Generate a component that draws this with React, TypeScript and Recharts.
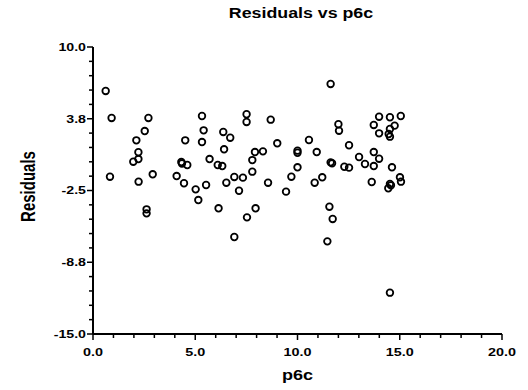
import { Scatter, ScatterChart, XAxis, YAxis } from "recharts";

// p6c values left to right (roughly)
const P6C = [
  0.62, 0.91, 0.83, 2.12, 2.22, 1.97, 2.22, 2.23, 2.53, 2.71,
  2.92, 2.62, 2.62, 4.09, 4.32, 4.35, 4.61, 4.45, 4.51, 5.02,
  5.15, 5.33, 5.41, 5.33, 5.53, 5.7, 6.1, 6.32, 6.14, 6.37,
  6.71, 6.41, 6.52, 6.91, 7.33, 7.14, 6.91, 7.53, 7.95, 8.56,
  9.44, 7.51, 7.51, 7.79, 7.79, 7.92, 8.31, 8.69, 9.01, 9.7,
  10.0, 10.0, 10.0, 10.56, 11.62, 12.0, 12.03, 12.52, 13.01, 13.3,
  13.73, 13.73, 13.99, 14.62, 13.63, 13.99, 14.52, 15.05, 13.73, 14.75,
  13.99, 14.52, 14.46, 14.52, 15.01, 15.06, 14.52, 14.44, 14.57, 11.62,
  11.69, 12.29, 12.52, 10.94, 10.84, 11.21, 11.56, 11.72, 11.46, 14.52,
];

const RESIDUALS = [
  6.17, 3.82, -1.3, 1.87, 0.83, 0.01, 0.24, -1.73, 2.68, 3.82,
  -1.09, -4.14, -4.49, -1.24, -0.02, -0.15, -0.28, -1.87, 1.87, -2.4,
  -3.33, 3.99, 2.74, 1.72, -2.02, 0.24, -0.28, -0.37, -4.05, 2.6,
  2.1, 1.09, -1.82, -1.32, -1.38, -2.52, -6.55, -4.84, -4.05, -1.82,
  -2.6, 4.14, 3.47, 0.15, -0.86, 0.85, 0.91, 3.67, 1.61, -1.3,
  0.97, 0.79, -0.48, 1.9, 6.78, 3.27, 2.71, 1.44, 0.42, -0.19,
  -0.37, 0.85, 0.27, -0.48, -1.76, 3.93, 3.88, 3.99, 3.21, 3.15,
  2.48, 2.86, 2.42, 2.19, -1.35, -1.73, -1.93, -2.31, -2.05, -0.05,
  -0.13, -0.43, -0.51, 0.85, -1.82, -1.35, -3.91, -4.98, -6.93, -11.4,
];

const X_TICKS = [0, 1, 2, 3, 4, 5, 6, 7, 8, 9, 10, 11, 12, 13, 14, 15, 16, 17, 18, 19, 20];
const X_MAJOR = [0, 5, 10, 15, 20];
const X_LABELS = ["0.0", "5.0", "10.0", "15.0", "20.0"];

const Y_TICKS = [
  -15, -13.75, -12.5, -11.25, -10, -8.75, -7.5, -6.25, -5, -3.75, -2.5,
  -1.25, 0, 1.25, 2.5, 3.75, 5, 6.25, 7.5, 8.75, 10,
];
const Y_MAJOR = [-15, -8.75, -2.5, 3.75, 10];
const Y_LABELS = ["-15.0", "-8.8", "-2.5", "3.8", "10.0"];

const points = P6C.map((x, i) => ({ x, y: RESIDUALS[i] }));

const FONT = "'Liberation Sans', Arial, Helvetica, sans-serif";

function XTick({ x, y, payload }: any) {
  const i = X_MAJOR.indexOf(payload.value);
  const major = i >= 0;
  return (
    <g>
      <line x1={x} x2={x} y1={y} y2={y + (major ? 6 : 4)} stroke="#000" strokeWidth={1.5} />
      {major && (
        <g transform={`translate(${x},${y + 22}) scale(1.25,1)`}>
          <text textAnchor="middle" fontSize={11.5} fontWeight="bold" fontFamily={FONT} fill="#000">
            {X_LABELS[i]}
          </text>
        </g>
      )}
    </g>
  );
}

function YTick({ x, y, payload }: any) {
  const i = Y_MAJOR.indexOf(payload.value);
  const major = i >= 0;
  return (
    <g>
      <line x1={x - (major ? 6 : 4)} x2={x} y1={y} y2={y} stroke="#000" strokeWidth={1.5} />
      {major && (
        <g transform={`translate(${x - 7},${y + 3.8}) scale(1.35,1)`}>
          <text textAnchor="end" fontSize={10.5} fontWeight="bold" fontFamily={FONT} fill="#000">
            {Y_LABELS[i]}
          </text>
        </g>
      )}
    </g>
  );
}

const OpenCircle = ({ cx, cy }: any) => (
  <circle cx={cx} cy={cy} r={3.3} fill="none" stroke="#000" strokeWidth={1.8} />
);

export default function App() {
  return (
    <div style={{ position: "absolute", left: 0, top: 0, width: 528, height: 390, background: "#fff" }}>
      <ScatterChart width={528} height={390} margin={{ top: 47, right: 26, bottom: 0, left: 0 }}>
        <XAxis
          type="number"
          dataKey="x"
          domain={[0, 20]}
          ticks={X_TICKS}
          interval={0}
          height={56}
          tickSize={0}
          tickMargin={0}
          tickLine={false}
          axisLine={{ stroke: "#000", strokeWidth: 2 }}
          tick={<XTick />}
        />
        <YAxis
          type="number"
          dataKey="y"
          domain={[-15, 10]}
          ticks={Y_TICKS}
          interval={0}
          width={93}
          tickSize={0}
          tickMargin={0}
          tickLine={false}
          axisLine={{ stroke: "#000", strokeWidth: 2 }}
          tick={<YTick />}
        />
        <Scatter data={points} shape={<OpenCircle />} isAnimationActive={false} />
      </ScatterChart>
      <svg
        width={528}
        height={390}
        style={{ position: "absolute", left: 0, top: 0, pointerEvents: "none" }}
      >
        <g transform="translate(301,18) scale(1.27,1)">
          <text textAnchor="middle" fontSize={14} fontWeight="bold" fontFamily={FONT} fill="#000">
            Residuals vs p6c
          </text>
        </g>
        <g transform="translate(297.5,380) scale(1.2,1)">
          <text textAnchor="middle" fontSize={15} fontWeight="bold" fontFamily={FONT} fill="#000">
            p6c
          </text>
        </g>
        <g transform="translate(35,186.5) scale(1.35,1) rotate(-90)">
          <text textAnchor="middle" fontSize={15} fontWeight="bold" fontFamily={FONT} fill="#000">
            Residuals
          </text>
        </g>
      </svg>
    </div>
  );
}
